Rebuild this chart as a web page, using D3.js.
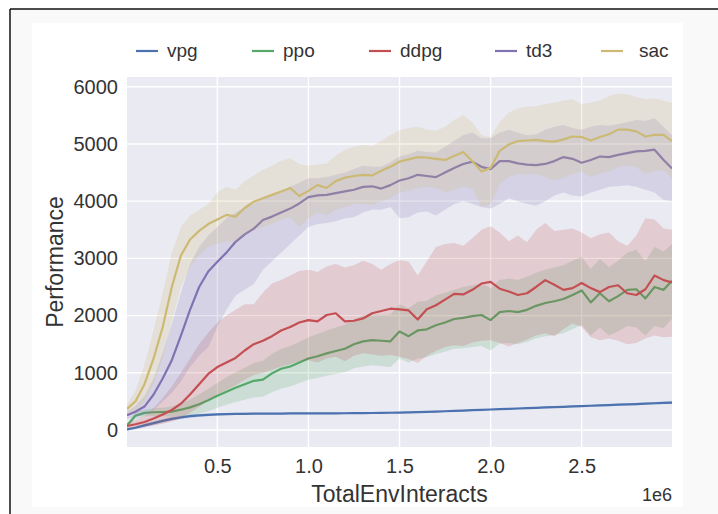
<!DOCTYPE html>
<html>
<head>
<meta charset="utf-8">
<script src="https://cdn.jsdelivr.net/npm/d3@7"></script>
<style>
  body { margin: 0; background: #fff; }
  text { font-family: 'Liberation Sans', Arial, sans-serif; fill: #333; }
</style>
</head>
<body>
<div id="chart"></div>
<script>
// Data (x in units of 1e6 env interactions)
const steps = [0.004, 0.05, 0.1, 0.15, 0.2, 0.25, 0.3, 0.35, 0.4, 0.45,
  0.5, 0.55, 0.6, 0.65, 0.7, 0.75, 0.8, 0.85, 0.9, 0.95,
  1.0, 1.05, 1.1, 1.15, 1.2, 1.25, 1.3, 1.35, 1.4, 1.45,
  1.5, 1.55, 1.6, 1.65, 1.7, 1.75, 1.8, 1.85, 1.9, 1.95,
  2.0, 2.05, 2.1, 2.15, 2.2, 2.25, 2.3, 2.35, 2.4, 2.45,
  2.5, 2.55, 2.6, 2.65, 2.7, 2.75, 2.8, 2.85, 2.9, 2.95, 2.996];

const vpgMean = [10, 40, 80, 120, 160, 195, 222, 242, 256, 266,
  273, 278, 281, 283, 285, 286, 287, 288, 289, 289,
  290, 291, 291, 292, 293, 294, 295, 297, 299, 302,
  305, 309, 313, 318, 323, 328, 334, 340, 346, 352,
  358, 364, 370, 376, 382, 388, 394, 400, 406, 412,
  418, 424, 430, 436, 442, 448, 454, 460, 468, 475, 480];
const vpgHigh = [35, 70, 115, 155, 195, 230, 254, 272, 284, 291,
  295, 298, 299, 300, 301, 301, 302, 303, 304, 304,
  305, 306, 306, 307, 308, 309, 310, 312, 314, 317,
  320, 324, 328, 333, 338, 343, 349, 355, 361, 367,
  373, 379, 385, 391, 397, 404, 410, 416, 423, 429,
  435, 441, 448, 454, 461, 468, 475, 481, 490, 498, 510];
const vpgLow = [-15, 10, 45, 85, 125, 160, 190, 212, 228, 241,
  251, 258, 263, 266, 269, 271, 272, 273, 274, 274,
  275, 276, 276, 277, 278, 279, 280, 282, 284, 287,
  290, 294, 298, 303, 308, 313, 319, 325, 331, 337,
  343, 349, 355, 361, 367, 372, 378, 384, 389, 395,
  401, 407, 412, 418, 423, 428, 433, 439, 445, 450, 450];

const ppoMean = [80, 250, 300, 310, 315, 322, 355, 395, 450, 520,
  600, 670, 740, 800, 860, 880, 990, 1070, 1110, 1180,
  1250, 1290, 1340, 1380, 1420, 1500, 1550, 1570, 1560, 1550,
  1720, 1640, 1740, 1760, 1830, 1880, 1940, 1960, 1990, 2010,
  1920, 2060, 2080, 2060, 2100, 2170, 2220, 2250, 2290, 2360,
  2440, 2230, 2390, 2250, 2340, 2450, 2460, 2300, 2500, 2450, 2610];
const ppoHigh = [110, 310, 360, 380, 390, 410, 460, 530, 620, 720,
  820, 920, 1010, 1090, 1170, 1210, 1330, 1420, 1470, 1540,
  1620, 1680, 1740, 1790, 1840, 1930, 2000, 2020, 2010, 2020,
  2200, 2130, 2240, 2260, 2350, 2400, 2450, 2500, 2530, 2560,
  2480, 2620, 2650, 2620, 2680, 2750, 2800, 2840, 2880, 2960,
  3030, 2820, 2990, 2850, 2960, 3100, 3150, 2950, 3200, 3120, 3250];
const ppoLow = [50, 190, 240, 240, 240, 235, 250, 260, 290, 330,
  390, 440, 490, 530, 570, 580, 660, 720, 760, 820,
  880, 910, 950, 980, 1010, 1080, 1110, 1130, 1120, 1100,
  1250, 1180, 1250, 1270, 1330, 1370, 1420, 1430, 1450, 1470,
  1390, 1510, 1520, 1500, 1540, 1600, 1640, 1660, 1690, 1760,
  1840, 1650, 1790, 1650, 1720, 1820, 1790, 1650, 1820, 1780, 1950];

const ddpgMean = [70, 100, 140, 200, 270, 350, 460, 620, 800, 980,
  1100, 1180, 1260, 1390, 1500, 1560, 1640, 1740, 1800, 1880,
  1920, 1900, 2010, 2040, 1900, 1910, 1950, 2040, 2080, 2120,
  2110, 2090, 1930, 2110, 2180, 2280, 2380, 2370, 2450, 2560,
  2590, 2470, 2420, 2360, 2390, 2500, 2620, 2540, 2450, 2480,
  2570, 2480, 2410, 2500, 2530, 2390, 2360, 2460, 2700, 2620, 2580];
const ddpgHigh = [120, 170, 250, 380, 560, 760, 1000, 1250, 1500, 1700,
  1880, 2000, 2100, 2200, 2200, 2400, 2560, 2620, 2700, 2780,
  2800, 2760, 2860, 2900, 2840, 2880, 2960, 2900, 2800, 2900,
  2970, 2940, 2700, 2950, 3200, 3250, 3270, 3220, 3350, 3500,
  3560, 3450, 3300, 3400, 3280, 3500, 3620, 3480, 3500, 3520,
  3450, 3350, 3420, 3450, 3300, 3220, 3400, 3700, 3680, 3520, 3500];
const ddpgLow = [30, 50, 60, 80, 110, 150, 210, 300, 400, 520,
  620, 700, 780, 880, 960, 1000, 1050, 1110, 1150, 1200,
  1220, 1180, 1250, 1280, 1200, 1300, 1340, 1320, 1300, 1310,
  1280, 1240, 1170, 1300, 1380, 1450, 1480, 1470, 1530, 1560,
  1570, 1520, 1460, 1520, 1580, 1650, 1690, 1640, 1760, 1860,
  1800, 1620, 1570, 1600, 1560, 1500, 1520, 1600, 1650, 1620, 1630];

const td3Mean = [260, 320, 410, 620, 900, 1220, 1650, 2100, 2500, 2770,
  2940, 3100, 3290, 3420, 3520, 3670, 3730, 3800, 3870, 3960,
  4070, 4100, 4110, 4140, 4170, 4200, 4250, 4260, 4220, 4280,
  4360, 4400, 4460, 4440, 4420, 4500, 4580, 4650, 4690, 4600,
  4560, 4700, 4700, 4660, 4640, 4630, 4650, 4700, 4770, 4740,
  4670, 4720, 4780, 4770, 4810, 4840, 4870, 4880, 4900, 4720, 4570];
const td3High = [330, 420, 600, 900, 1350, 1850, 2400, 2900, 3200, 3400,
  3550, 3700, 3800, 3900, 3950, 4050, 4100, 4150, 4250, 4320,
  4400, 4400, 4420, 4460, 4500, 4560, 4620, 4600, 4600, 4680,
  4780, 4820, 4880, 4860, 4850, 4950, 5050, 5150, 5200, 5100,
  5100, 5200, 5250, 5200, 5150, 5170, 5250, 5300, 5330, 5280,
  5250, 5300, 5330, 5320, 5350, 5380, 5420, 5400, 5450, 5300, 5150];
const td3Low = [190, 230, 260, 350, 500, 650, 850, 1100, 1300, 1450,
  1800, 2100, 2350, 2450, 2550, 2800, 2950, 3100, 3250, 3400,
  3550, 3600, 3620, 3650, 3700, 3720, 3800, 3850, 3850, 3900,
  3700, 3720, 3800, 3820, 3750, 3850, 3950, 4000, 3950, 3900,
  3870, 3950, 4050, 4000, 3950, 3920, 4000, 4100, 4150, 4100,
  4080, 4150, 4200, 4250, 4260, 4280, 4250, 4200, 4150, 4020, 4000];

const sacMean = [370, 500, 800, 1250, 1800, 2500, 3050, 3330, 3480, 3600,
  3680, 3760, 3730, 3880, 3990, 4050, 4110, 4170, 4230, 4090,
  4180, 4280, 4230, 4350, 4410, 4440, 4460, 4450, 4530, 4600,
  4690, 4730, 4770, 4760, 4740, 4720, 4790, 4860, 4700, 4520,
  4580, 4880, 4990, 5050, 5060, 5070, 5050, 5040, 5080, 5130,
  5120, 5060, 5120, 5170, 5250, 5250, 5220, 5130, 5160, 5160, 5050];
const sacHigh = [450, 680, 1150, 1750, 2400, 3100, 3550, 3750, 3850, 3950,
  4150, 4250, 4200, 4350, 4450, 4550, 4620, 4700, 4750, 4650,
  4620, 4640, 4660, 4800, 4900, 4950, 4980, 4970, 5050, 5150,
  5240, 5280, 5300, 5250, 5230, 5300, 5420, 5500, 5380, 5150,
  5120, 5380, 5550, 5620, 5650, 5660, 5700, 5720, 5760, 5780,
  5700, 5720, 5760, 5840, 5880, 5870, 5820, 5780, 5800, 5760, 5720];
const sacLow = [290, 340, 480, 800, 1250, 1900, 2500, 2850, 3050, 3200,
  3250, 3300, 3280, 3400, 3500, 3550, 3600, 3680, 3720, 3550,
  3700, 3800, 3750, 3850, 3900, 3950, 3950, 3930, 4000, 4050,
  4150, 4180, 4230, 4250, 4230, 4150, 4200, 4250, 4220, 3900,
  3950, 4300, 4420, 4480, 4460, 4470, 4420, 4360, 4400, 4480,
  4520, 4420, 4480, 4520, 4600, 4620, 4600, 4480, 4520, 4550, 4380];

const algos = ['vpg', 'ppo', 'ddpg', 'td3', 'sac'];
const colors = ['#4c72b0', '#55a868', '#c44e52', '#8172b2', '#ccb974'];
const yTicks = [0, 1000, 2000, 3000, 4000, 5000, 6000];
const xTicks = [0.5, 1.0, 1.5, 2.0, 2.5];

// build one row per point for each algo
const table = [
  [vpgMean, vpgLow, vpgHigh],
  [ppoMean, ppoLow, ppoHigh],
  [ddpgMean, ddpgLow, ddpgHigh],
  [td3Mean, td3Low, td3High],
  [sacMean, sacLow, sacHigh],
].map(([m, lo, hi], k) => ({
  name: algos[k],
  color: colors[k],
  values: steps.map((x, i) => ({ x, mean: m[i], lo: lo[i], hi: hi[i] })),
}));

const W = 718;
const H = 514;
const margin = { t: 77, l: 127 };
const width = 545;
const height = 370;

const svg = d3.select('#chart')
  .append('svg')
  .attr('width', W)
  .attr('height', H);

// page frame: black edges, grey surround, white figure
svg.append('rect').attr('x', 10).attr('y', 9).attr('width', W - 10).attr('height', H - 9)
  .attr('fill', '#f9f9f9');
svg.append('rect').attr('x', 32).attr('y', 23).attr('width', 651).attr('height', 484)
  .attr('fill', '#fff');
svg.append('line').attr('x1', 10).attr('x2', W).attr('y1', 9).attr('y2', 9)
  .attr('stroke', '#111').attr('stroke-width', 1.5);
svg.append('line').attr('x1', 10).attr('x2', 10).attr('y1', 9).attr('y2', H)
  .attr('stroke', '#111').attr('stroke-width', 1.5);

const g = svg.append('g').attr('transform', `translate(${margin.l},${margin.t})`);

const xScale = d3.scaleLinear().domain([steps[0], steps[steps.length - 1]]).range([0, width]);
const yScale = d3.scaleLinear().domain([-297, 6170]).range([height, 0]);

g.append('rect').attr('width', width).attr('height', height).attr('fill', '#eaeaf2');

g.append('clipPath').attr('id', 'clip')
  .append('rect').attr('width', width).attr('height', height);

// grid
g.append('g')
  .selectAll('line.gy')
  .data(yTicks)
  .join('line')
  .attr('x1', 0)
  .attr('x2', width)
  .attr('y1', (d) => yScale(d))
  .attr('y2', (d) => yScale(d))
  .attr('stroke', '#fff')
  .attr('stroke-width', 1.4);
g.append('g')
  .selectAll('line.gx')
  .data(xTicks)
  .join('line')
  .attr('x1', (d) => xScale(d))
  .attr('x2', (d) => xScale(d))
  .attr('y1', 0)
  .attr('y2', height)
  .attr('stroke', '#fff')
  .attr('stroke-width', 1.4);

// axes (labels only)
const xAxis = d3.axisBottom(xScale).tickValues(xTicks).tickSize(0).tickPadding(12)
  .tickFormat(d3.format('.1f'));
const yAxis = d3.axisLeft(yScale).tickValues(yTicks).tickSize(0).tickPadding(9)
  .tickFormat(d3.format('d'));

g.append('g').attr('transform', `translate(0,${height})`).call(xAxis)
  .call((a) => a.select('.domain').remove())
  .selectAll('text')
  .style('font-size', '20px')
  .attr('fill', '#333');
g.append('g').call(yAxis)
  .call((a) => a.select('.domain').remove())
  .selectAll('text')
  .style('font-size', '20px')
  .attr('fill', '#333');

// bands and lines
const area = d3.area()
  .x((d) => xScale(d.x))
  .y0((d) => yScale(d.lo))
  .y1((d) => yScale(d.hi));
const line = d3.line()
  .x((d) => xScale(d.x))
  .y((d) => yScale(d.mean));

const plot = g.append('g').attr('clip-path', 'url(#clip)');
table.forEach((s) => {
  plot.append('path')
    .datum(s.values)
    .attr('d', area)
    .attr('fill', s.color)
    .attr('opacity', 0.2);
  plot.append('path')
    .datum(s.values)
    .attr('d', line)
    .attr('fill', 'none')
    .attr('stroke', s.color)
    .attr('stroke-width', 2.2)
    .attr('stroke-linejoin', 'round');
});

// axis names
g.append('text')
  .attr('text-anchor', 'middle')
  .attr('x', width / 2)
  .attr('y', height + 55)
  .style('font-size', '23px')
  .text('TotalEnvInteracts');
g.append('text')
  .attr('text-anchor', 'end')
  .attr('x', width)
  .attr('y', height + 54)
  .style('font-size', '18px')
  .text('1e6');
g.append('text')
  .attr('text-anchor', 'middle')
  .attr('transform', `translate(${63 - margin.l},${height / 2})rotate(-90)`)
  .style('font-size', '23px')
  .text('Performance');

// legend
const legendX = [136, 252, 369, 495, 601];
const legend = svg.append('g')
  .selectAll('g')
  .data(table)
  .join('g')
  .attr('transform', (d, i) => `translate(${legendX[i]},51)`);
legend.append('line')
  .attr('x1', 0)
  .attr('x2', 22)
  .attr('stroke', (d) => d.color)
  .attr('stroke-width', 2.2);
legend.append('text')
  .attr('x', (d, i) => (i === 4 ? 38 : 31))
  .attr('y', 6)
  .style('font-size', '19px')
  .text((d) => d.name);
</script>
</body>
</html>
